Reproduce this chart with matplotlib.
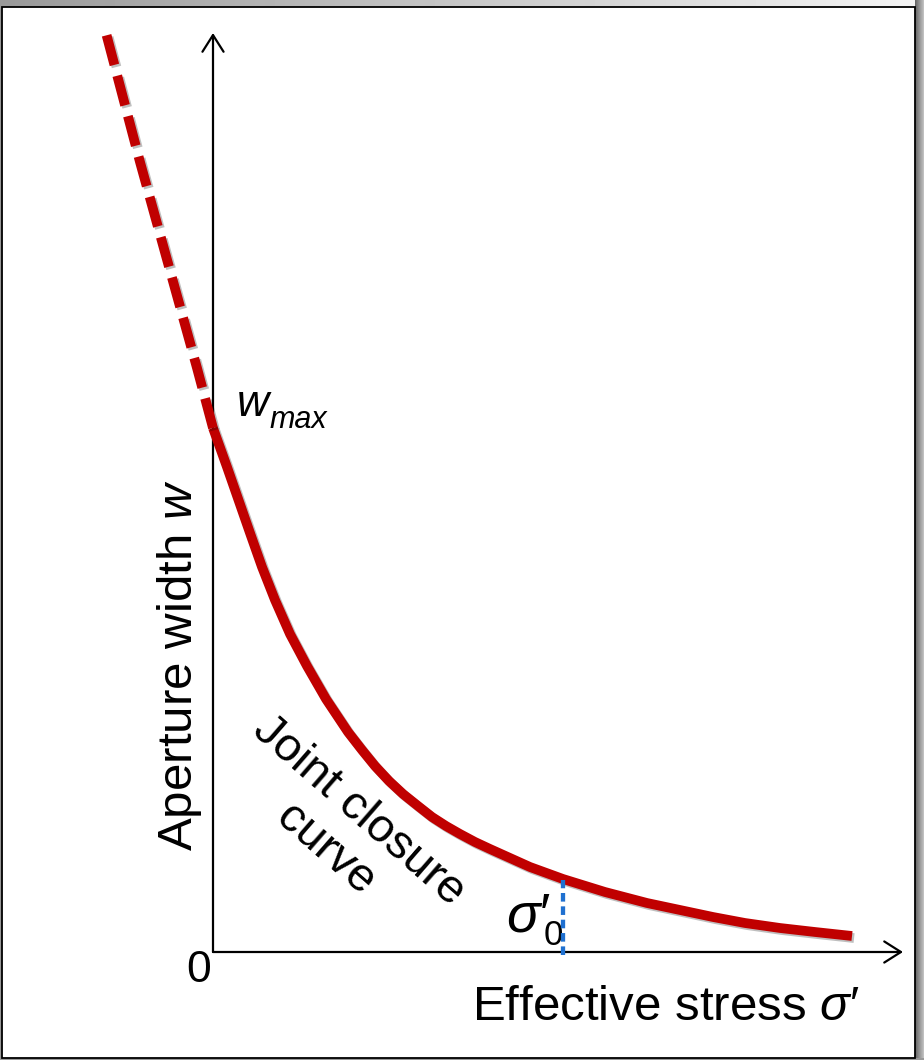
import numpy as np
import matplotlib
matplotlib.use('Agg')
import matplotlib.pyplot as plt
import matplotlib.patheffects as pe
from matplotlib.patches import Rectangle

plt.rcParams['font.family'] = ['Liberation Sans', 'DejaVu Sans']
plt.rcParams['mathtext.fontset'] = 'custom'
plt.rcParams['mathtext.rm'] = 'Liberation Sans'
plt.rcParams['mathtext.it'] = 'Liberation Sans:italic'

# ── Schematic data (arbitrary units, origin at axes crossing) ────────────────
# measured (solid) part of the joint closure curve
sigma_solid = [0, 14, 37, 49, 62, 77, 94, 113, 135, 149, 162, 176, 190, 205,
               219, 233, 247, 262, 277, 297, 317, 350, 392, 434, 467, 500,
               532, 567, 602, 639]
w_solid     = [524, 485, 419, 385, 352, 318, 286, 253, 220, 202, 186, 171, 158,
               146, 135, 126, 118, 110, 103, 94, 85, 73, 60, 49, 42, 35,
               29, 24, 20, 16]
# extrapolated (dashed) part, drawn from w_max upward
sigma_extra = [0, -16, -73, -107]
w_extra     = [524, 584, 790, 919]

sigma0   = 350      # in-situ effective stress
w_sigma0 = 72
x_tip    = 690      # axis arrow tips
y_tip    = 919

RED  = '#c00000'
BLUE = '#1f70d0'
LW   = 7.0

fig = plt.figure(figsize=(9.24, 10.6), dpi=100)

# ── Slide background + panel ─────────────────────────────────────────────────
bg = fig.add_axes([0, 0, 1, 1])
bg.axis('off')
grad = np.ones((1060, 924))
grad[:8, :] = np.linspace(0.60, 0.96, 924)
grad[:, 915:] = np.linspace(0.40, 0.75, 9)
grad[1058:, :] = 0.6
grad[:, :2] = 0.6
bg.imshow(grad, cmap='gray', vmin=0, vmax=1, aspect='auto',
          extent=[0, 1, 0, 1], interpolation='nearest')
bg.set_xlim(0, 1)
bg.set_ylim(0, 1)
bg.add_patch(Rectangle((2 / 924, 2 / 1060), 913 / 924, 1051 / 1060,
                       facecolor='white', edgecolor='black', lw=1.3,
                       transform=fig.transFigure))

# ── Main axes: data units laid out on the panel ──────────────────────────────
ax = fig.add_axes([0, 0, 1, 1])
ax.set_xlim(-213, 711)
ax.set_ylim(-108, 952)
ax.axis('off')
ax.patch.set_alpha(0)

AX = dict(arrowstyle='->,head_length=0.6,head_width=0.38', color='black',
          lw=1.6, mutation_scale=20, shrinkA=0, shrinkB=0)
ax.annotate('', xy=(0, y_tip), xytext=(0, 0), arrowprops=AX)
ax.annotate('', xy=(x_tip, 0), xytext=(0, 0), arrowprops=AX)

shadow = [pe.SimpleLineShadow(offset=(1.5, -1.5), shadow_color='k', alpha=0.25),
          pe.Normal()]

ax.plot(sigma_solid, w_solid, color=RED, lw=LW, solid_capstyle='butt',
        solid_joinstyle='round', path_effects=shadow, zorder=4)
ln, = ax.plot(sigma_extra, w_extra, color=RED, lw=LW, dash_capstyle='butt',
              path_effects=shadow, zorder=4)
ln.set_dashes((3.15, 1.15))

ax.plot([sigma0, sigma0], [-3, w_sigma0], color=BLUE, lw=3.1,
        dash_capstyle='butt', dashes=(2.0, 1.1), zorder=5)

# ── Labels ───────────────────────────────────────────────────────────────────
ax.text(-14, -19, '0', fontsize=32, ha='center', va='center')
ax.text(259, -68, 'Effective stress $\\sigma$\u2032', fontsize=35.5,
        ha='left', va='baseline')
ax.text(-33, 287, 'Aperture width $w$', fontsize=35.5, rotation=90,
        ha='center', va='center')
ax.text(24, 536, 'w', fontsize=32, style='italic', ha='left', va='baseline')
ax.text(57, 524, 'max', fontsize=22, style='italic', ha='left', va='baseline')
ax.text(129, 122, 'Joint closure\ncurve', fontsize=34, rotation=-41,
        rotation_mode='anchor', ha='center', va='center',
        multialignment='center', linespacing=1.22)
ax.text(293, 20, '$\\sigma$\u2032', fontsize=40, ha='left', va='baseline')
ax.text(331, 7, '0', fontsize=25, ha='left', va='baseline')

fig.savefig('out.png', dpi=100)
